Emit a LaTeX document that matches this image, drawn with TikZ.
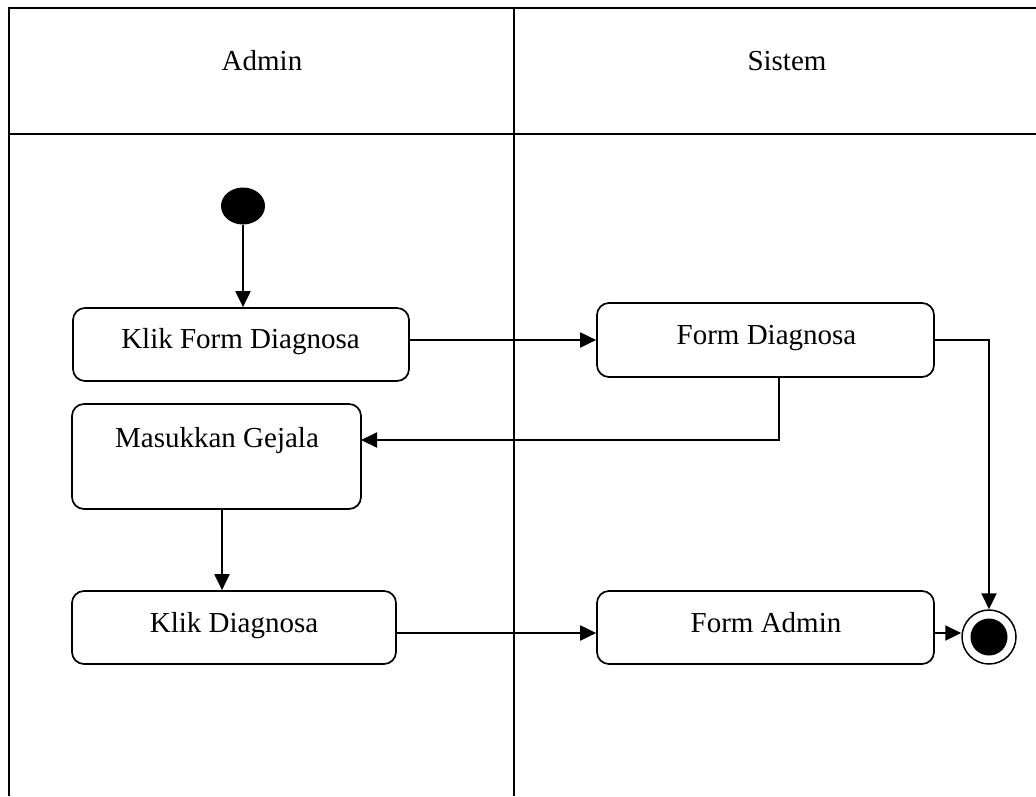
\documentclass[tikz,border=0pt]{standalone}
\usepackage{fontspec}
\setmainfont{Liberation Serif}
\usetikzlibrary{arrows.meta,shapes.geometric}
\begin{document}
\begin{tikzpicture}[x=1pt,y=-1pt,
  frame/.style={line width=2.2pt},
  actbox/.style={draw, line width=1.7pt, rounded corners=12pt, inner sep=0pt},
  lbl/.style={anchor=base, inner sep=0pt, font=\fontsize{29}{34}\selectfont},
  flow/.style={line width=2pt, -{Triangle[length=16pt,width=15pt]}},
  flowline/.style={line width=2pt}]
\useasboundingbox (0,0) rectangle (1036,796);
% swimlane frame
\coordinate (tl) at (9,8);
\coordinate (tr) at (1036,8);
\coordinate (bl) at (9,796);
\coordinate (dt) at (514,8);
\coordinate (db) at (514,796);
\coordinate (hl) at (9,134);
\coordinate (hr) at (1036,134);
\draw[frame] (bl) -- (tl) -- (tr);
\draw[frame] (dt) -- (db);
\draw[frame] (hl) -- (hr);
\node[lbl] (hadmin) at (262,70) {Admin};
\node[lbl] (hsistem) at (787,70) {Sistem};
% start
\node[ellipse, fill=black, minimum width=44pt, minimum height=37pt, inner sep=0pt] (init) at (243,206) {};
% activities
\node[actbox, minimum width=336pt, minimum height=73pt] (kfd) at (241,344.5) {};
\node[lbl] (tkfd) at (240.5,348) {Klik Form Diagnosa};
\node[actbox, minimum width=337pt, minimum height=74pt] (fd) at (765.5,340) {};
\node[lbl] (tfd) at (766.5,344) {Form Diagnosa};
\node[actbox, minimum width=289pt, minimum height=105pt] (mg) at (216.5,456.5) {};
\node[lbl] (tmg) at (217,447) {Masukkan Gejala};
\node[actbox, minimum width=324pt, minimum height=73pt] (kd) at (234,627.5) {};
\node[lbl] (tkd) at (234,632) {Klik Diagnosa};
\node[actbox, minimum width=337pt, minimum height=73pt] (fa) at (765.5,627.5) {};
\node[lbl] (tfa) at (766,632) {Form Admin};
% end
\node[circle, draw, line width=1.5pt, minimum size=54pt, inner sep=0pt] (fin) at (989,637) {};
\node[circle, fill=black, minimum size=37pt, inner sep=0pt] (fininner) at (fin) {};
% helper coordinates
\coordinate (fdb) at (779,377);
\coordinate (mgin) at (361,440);
\coordinate (mgb) at (222,509);
\coordinate (kdo) at (396,633);
\coordinate (fao) at (934,633);
% connectors
\draw[flow] (init) -- (init |- kfd.north);
\draw[flow] (kfd.east |- fd.west) -- (fd.west);
\draw[flow] (fd.east) -| (fin.north);
\draw[flow] (fdb) |- (mgin);
\draw[flow] (mgb) -- (mgb |- kd.north);
\draw[flow] (kdo) -- (fa.west |- kdo);
\draw[flow] (fao) -- (fin.west |- fao);
\end{tikzpicture}
\end{document}
